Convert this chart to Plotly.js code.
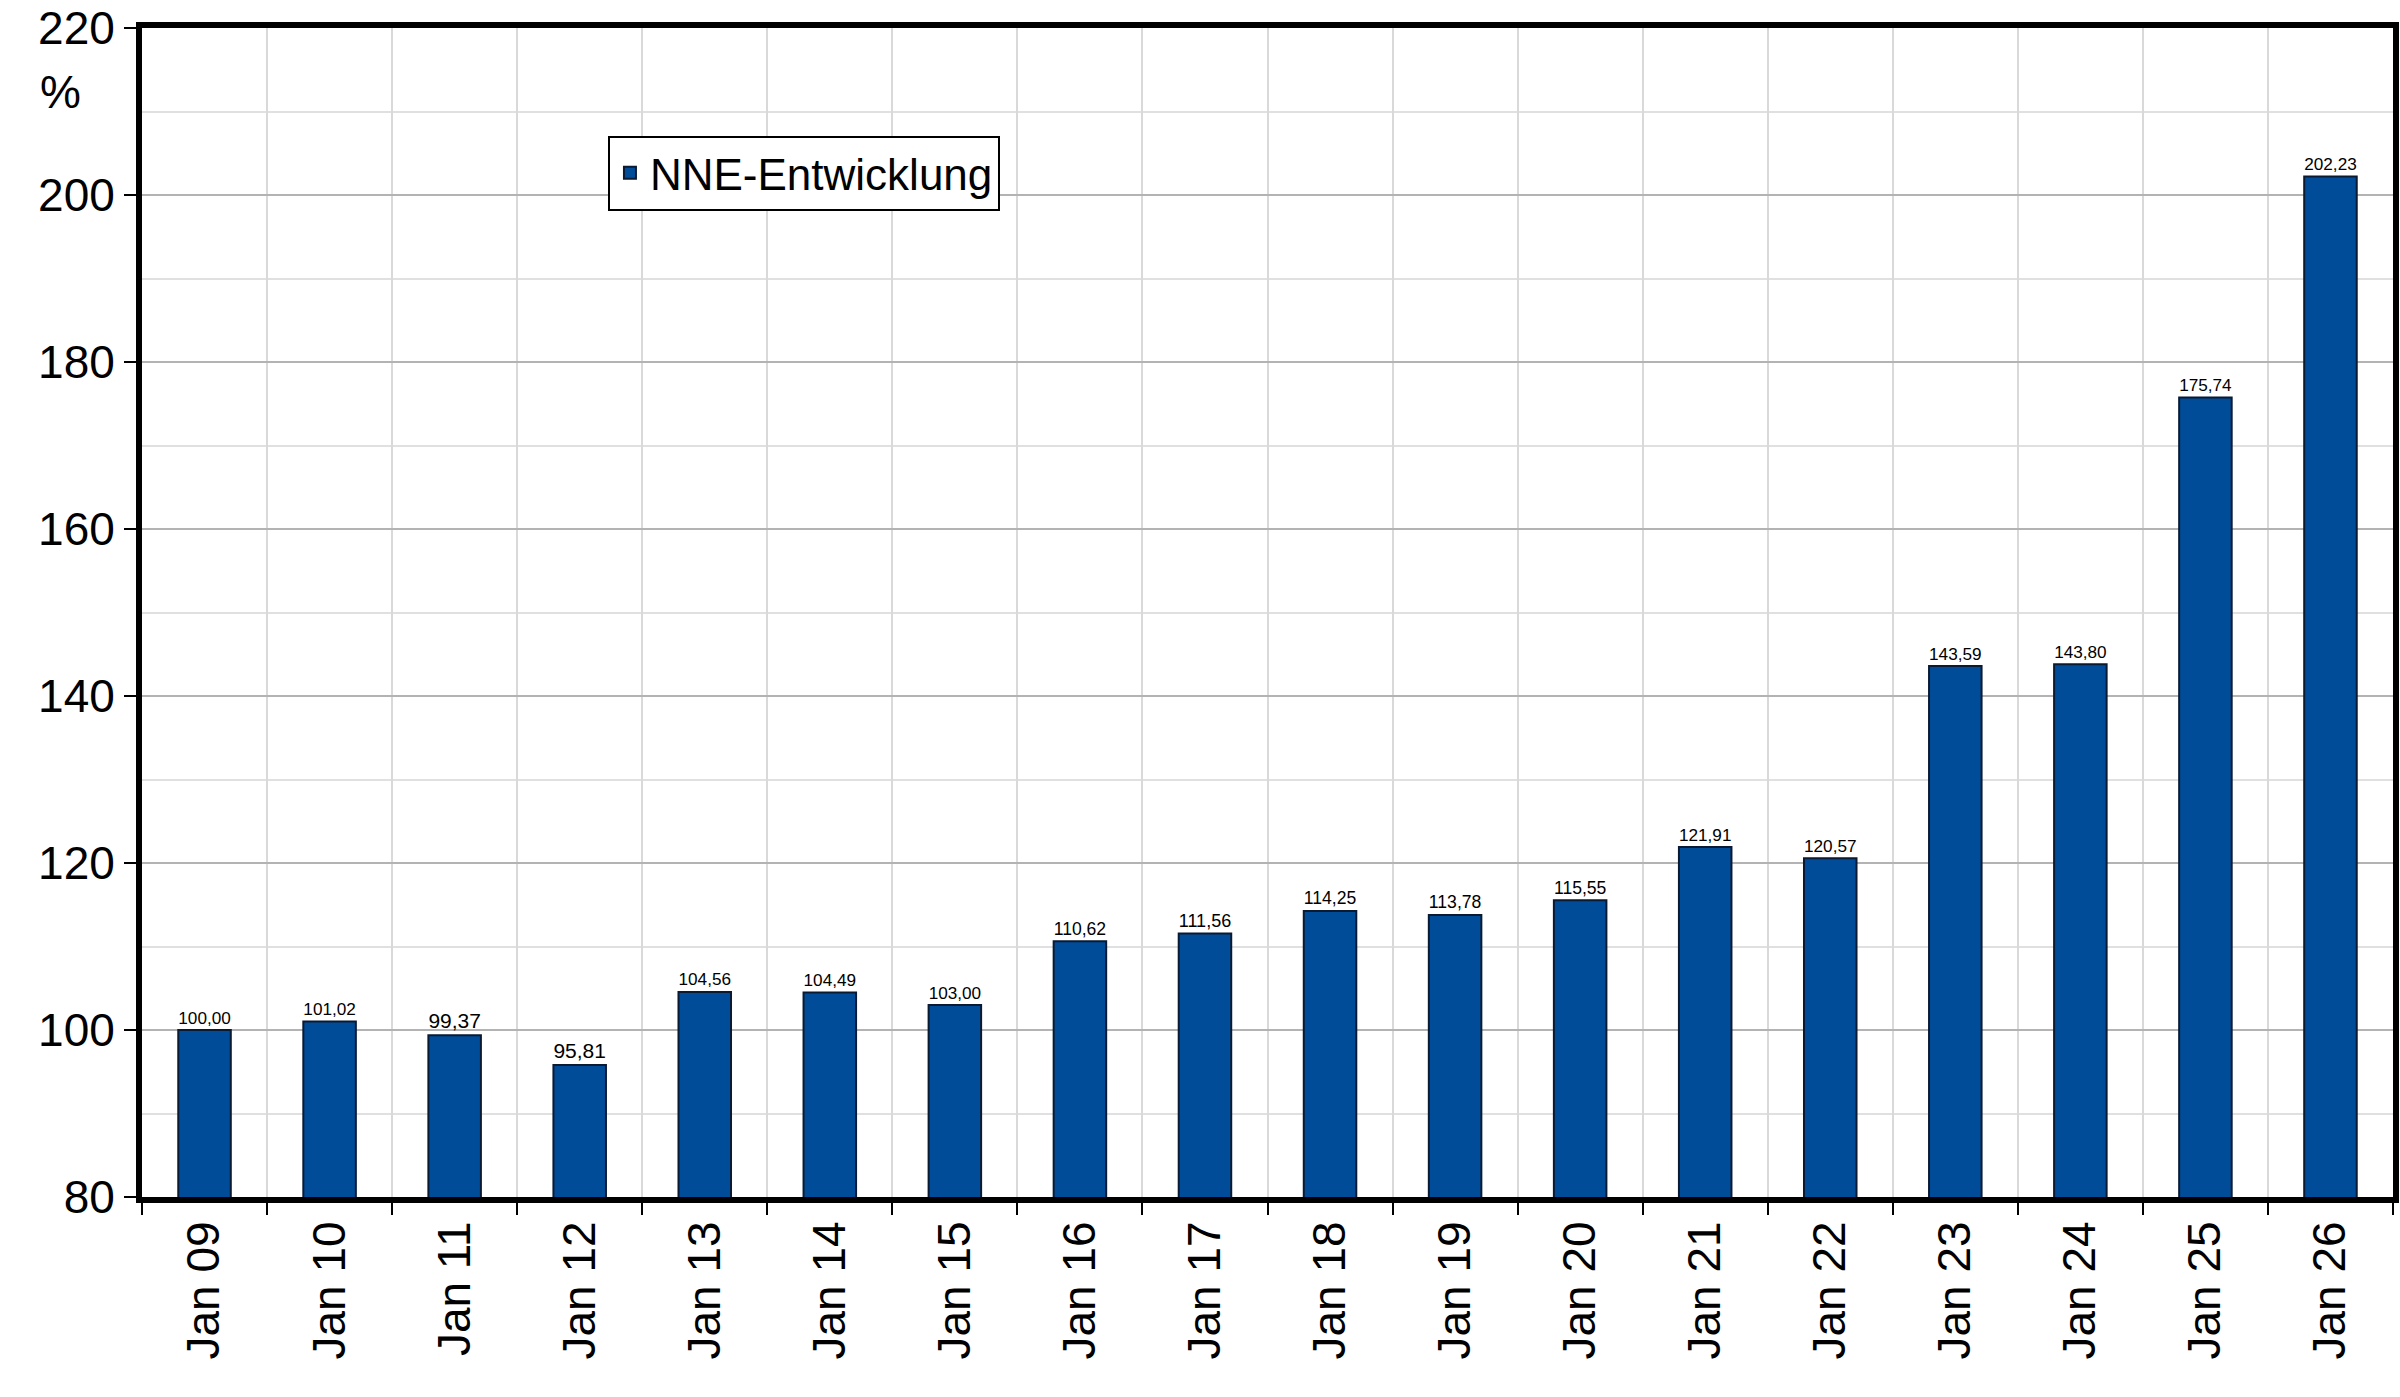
<!DOCTYPE html>
<html>
<head>
<meta charset="utf-8">
<script src="https://cdn.plot.ly/plotly-3.0.1.min.js"></script>
<style>html,body{margin:0;padding:0;background:#fff}#plot{width:2400px;height:1397px}</style>
</head>
<body>
<div id="plot"></div>
<script>
const categories = ['Jan 09','Jan 10','Jan 11','Jan 12','Jan 13','Jan 14','Jan 15','Jan 16','Jan 17',
  'Jan 18','Jan 19','Jan 20','Jan 21','Jan 22','Jan 23','Jan 24','Jan 25','Jan 26'];
const nneValues = [100.00,101.02,99.37,95.81,104.56,104.49,103.00,110.62,111.56,
  114.25,113.78,115.55,121.91,120.57,143.59,143.80,175.74,202.23];
const yTicks = [80,100,120,140,160,180,200,220];

const font = 'Liberation Sans, Arial, sans-serif';

const trace = {
  type: 'bar',
  name: 'NNE-Entwicklung',
  x: categories,
  y: nneValues,
  width: 0.42,
  marker: {color: '#004C99', line: {color: '#0a1a33', width: 2}},
  text: nneValues.map(v => v.toFixed(2).replace('.', ',')),
  textposition: 'outside',
  cliponaxis: false,
  textfont: {family: font, size: 30, color: '#000'},
  showlegend: true
};

const layout = {
  width: 2400, height: 1397,
  margin: {l: 142, r: 7, t: 28, b: 200},
  paper_bgcolor: '#fff', plot_bgcolor: '#fff',
  font: {family: font, color: '#000'},
  bargap: 0.58,
  xaxis: {
    type: 'category',
    range: [-0.5, 17.5],
    tickson: 'boundaries',
    ticks: 'outside', ticklen: 12, tickwidth: 2, tickcolor: '#000',
    tickangle: -90,
    tickfont: {size: 46},
    showgrid: true, gridcolor: '#d9d9d9', gridwidth: 2,
    showline: true, linecolor: '#000', linewidth: 6, mirror: true
  },
  yaxis: {
    range: [80, 220],
    tickvals: yTicks,
    ticks: 'outside', ticklen: 12, tickwidth: 2, tickcolor: '#000',
    tickfont: {size: 46},
    showgrid: true, gridcolor: '#b3b3b3', gridwidth: 2,
    minor: {dtick: 10, showgrid: true, gridcolor: '#e0e0e0', gridwidth: 2},
    showline: true, linecolor: '#000', linewidth: 6, mirror: true,
    zeroline: false
  },
  legend: {
    x: 0.207, y: 0.908, xanchor: 'left', yanchor: 'top',
    bgcolor: '#fff', bordercolor: '#000', borderwidth: 2,
    font: {size: 44},
    itemwidth: 30
  },
  annotations: [{
    text: '%', xref: 'paper', yref: 'paper', x: -0.036, y: 0.945,
    xanchor: 'center', yanchor: 'middle', showarrow: false,
    font: {size: 46}
  }]
};

Plotly.newPlot('plot', [trace], layout, {displayModeBar: false, staticPlot: true});
</script>
</body>
</html>
